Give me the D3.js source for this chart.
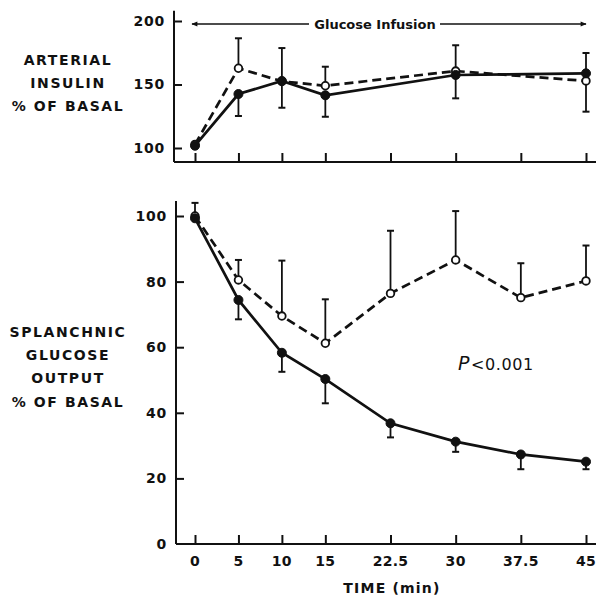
<!DOCTYPE html>
<html>
<head>
<meta charset="utf-8">
<script src="https://cdn.jsdelivr.net/npm/d3@7/dist/d3.min.js"></script>
<style>
  html, body { margin: 0; padding: 0; background: #fff; }
  svg { display: block; }
  text { font-family: "DejaVu Sans", sans-serif; fill: #111; }
</style>
</head>
<body>
<svg id="chart" width="596" height="595"></svg>
<script>
// ---------- data ----------
const insulinTimes = [0, 5, 10, 15, 30, 45];
const insulinFilled = [101.8, 142.5, 152.8, 141.5, 157.5, 158.8];
const insulinFilledErrEnd = [null, 125.2, 131.7, 124.6, 139.1, 174.8];
const insulinOpen = [102.8, 162.8, 152.5, 149, 160.6, 152.8];
const insulinOpenErrEnd = [null, 186.4, 178.7, 164, 180.9, 128.6];
const insulinTicks = [100, 150, 200];

const glucoseTimes = [0, 5, 10, 15, 22.5, 30, 37.5, 45];
const glucoseOpen = [100, 80.5, 69.5, 61.2, 76.4, 86.6, 75.1, 80.2];
const glucoseOpenErrEnd = [104, 86.6, 86.4, 74.6, 95.5, 101.5, 85.6, 91];
const glucoseFilled = [99.3, 74.4, 58.3, 50.3, 36.8, 31.2, 27.3, 25.1];
const glucoseFilledErrEnd = [null, 68.5, 52.5, 42.9, 32.5, 28.1, 22.8, 22.8];
const glucoseTicks = [0, 20, 40, 60, 80, 100];

const timeTicks = [0, 5, 10, 15, 22.5, 30, 37.5, 45];
const timeTickLabels = ["0", "5", "10", "15", "22.5", "30", "37.5", "45"];

// ---------- layout ----------
const svg = d3.select("#chart");
const x = d3.scaleLinear().domain([0, 45]).range([195, 586]);
const yTop = d3.scaleLinear().domain([100, 200]).range([148, 21]);
const yBot = d3.scaleLinear().domain([0, 100]).range([544, 216]);

const ink = "#111";

function panel(y, axisX, yMin, yMax, ticks, xAxisY) {
  const g = svg.append("g");
  g.append("line").attr("x1", axisX).attr("x2", axisX)
    .attr("y1", y(yMax)).attr("y2", xAxisY)
    .attr("stroke", ink).attr("stroke-width", 2);
  g.append("line").attr("x1", axisX).attr("x2", 596)
    .attr("y1", xAxisY).attr("y2", xAxisY)
    .attr("stroke", ink).attr("stroke-width", 2.2);
  const xa = d3.axisBottom(x).tickValues(timeTicks).tickSize(-9).tickSizeOuter(0).tickFormat("");
  const gx = g.append("g").attr("transform", `translate(0,${xAxisY})`).call(xa);
  gx.select(".domain").remove();
  gx.selectAll(".tick line").attr("stroke", ink).attr("stroke-width", 2);
  const ya = d3.axisLeft(y).tickValues(ticks).tickSize(-8).tickSizeOuter(0).tickPadding(9)
    .tickFormat(d3.format("d"));
  const gy = g.append("g").attr("transform", `translate(${axisX},0)`).call(ya);
  gy.select(".domain").remove();
  gy.selectAll(".tick line").attr("stroke", ink).attr("stroke-width", 2)
    .attr("display", d => d === 0 ? "none" : null);
  gy.selectAll(".tick text").attr("font-size", 14).attr("font-weight", "bold")
    .attr("letter-spacing", 0.8).attr("fill", ink).attr("x", -9);
  return g;
}

function series(g, y, times, vals, errEnd, filled) {
  const pts = times.map((t, i) => ({ t, v: vals[i], e: errEnd[i] }));
  const line = d3.line().x(d => x(d.t)).y(d => y(d.v));
  g.append("path").datum(pts).attr("d", line)
    .attr("fill", "none").attr("stroke", ink).attr("stroke-width", 2.7)
    .attr("stroke-dasharray", filled ? null : "9,5");
  const eb = g.append("g");
  pts.filter(d => d.e !== null).forEach(d => {
    eb.append("line").attr("x1", x(d.t)).attr("x2", x(d.t))
      .attr("y1", y(d.v)).attr("y2", y(d.e)).attr("stroke", ink).attr("stroke-width", 1.8);
    eb.append("line").attr("x1", x(d.t) - 3.5).attr("x2", x(d.t) + 3.5)
      .attr("y1", y(d.e)).attr("y2", y(d.e)).attr("stroke", ink).attr("stroke-width", 2);
  });
  return pts;
}

function markers(g, y, pts, filled) {
  g.selectAll(null).data(pts).enter().append("circle")
    .attr("cx", d => x(d.t)).attr("cy", d => y(d.v))
    .attr("r", filled ? 4.5 : 3.8)
    .attr("fill", filled ? ink : "#fff")
    .attr("stroke", ink).attr("stroke-width", filled ? 1 : 1.8);
}

// ---------- top panel ----------
const gTop = panel(yTop, 174, 100, 208, insulinTicks, 162);
const pTopOpen = series(gTop, yTop, insulinTimes, insulinOpen, insulinOpenErrEnd, false);
const pTopFilled = series(gTop, yTop, insulinTimes, insulinFilled, insulinFilledErrEnd, true);
markers(gTop, yTop, pTopOpen, false);
markers(gTop, yTop, pTopFilled, true);

// ---------- bottom panel ----------
const gBot = panel(yBot, 176, 0, 104.6, glucoseTicks, 544);
const pBotOpen = series(gBot, yBot, glucoseTimes, glucoseOpen, glucoseOpenErrEnd, false);
const pBotFilled = series(gBot, yBot, glucoseTimes, glucoseFilled, glucoseFilledErrEnd, true);
markers(gBot, yBot, pBotOpen, false);
markers(gBot, yBot, pBotFilled, true);

// x tick labels (bottom)
svg.append("g").selectAll("text").data(timeTicks).enter().append("text")
  .attr("x", d => x(d)).attr("y", 566)
  .attr("text-anchor", "middle").attr("font-size", 14).attr("font-weight", "bold")
  .attr("letter-spacing", 0.3)
  .text((d, i) => timeTickLabels[i]);

svg.append("text").attr("x", 392).attr("y", 593).attr("text-anchor", "middle")
  .attr("font-size", 14).attr("font-weight", "bold").attr("letter-spacing", 1.2)
  .text("TIME (min)");

// glucose infusion arrow
const arrowY = 24;
const defs = svg.append("defs");
defs.append("marker").attr("id", "ah").attr("viewBox", "0 0 10 10")
  .attr("refX", 9).attr("refY", 5).attr("markerWidth", 12).attr("markerHeight", 6)
  .attr("markerUnits", "userSpaceOnUse").attr("orient", "auto-start-reverse")
  .append("path").attr("d", "M0,1 L10,5 L0,9 Z").attr("fill", ink);
svg.append("line").attr("x1", 192).attr("x2", 309).attr("y1", arrowY).attr("y2", arrowY)
  .attr("stroke", ink).attr("stroke-width", 1.6).attr("marker-start", "url(#ah)");
svg.append("line").attr("x1", 440).attr("x2", 586).attr("y1", arrowY).attr("y2", arrowY)
  .attr("stroke", ink).attr("stroke-width", 1.6).attr("marker-end", "url(#ah)");
svg.append("text").attr("x", 375).attr("y", arrowY + 5).attr("text-anchor", "middle")
  .attr("font-size", 13).attr("font-weight", "bold").text("Glucose Infusion");

// P value
const pt = svg.append("text").attr("x", 458).attr("y", 370).attr("font-size", 16)
  .attr("letter-spacing", 0.6);
pt.append("tspan").attr("font-style", "italic").attr("font-size", 19).text("P");
pt.append("tspan").attr("dx", 1).text("<0.001");

// left labels
function leftLabel(lines, ys) {
  svg.append("g").selectAll("text").data(lines).enter().append("text")
    .attr("x", 68).attr("y", (d, i) => ys[i]).attr("text-anchor", "middle")
    .attr("font-size", 14).attr("font-weight", "bold").attr("letter-spacing", 1.6)
    .text(d => d);
}
leftLabel(["ARTERIAL", "INSULIN", "% OF BASAL"], [65, 88, 111]);
leftLabel(["SPLANCHNIC", "GLUCOSE", "OUTPUT", "% OF BASAL"], [337, 360, 383, 407]);
</script>
</body>
</html>
